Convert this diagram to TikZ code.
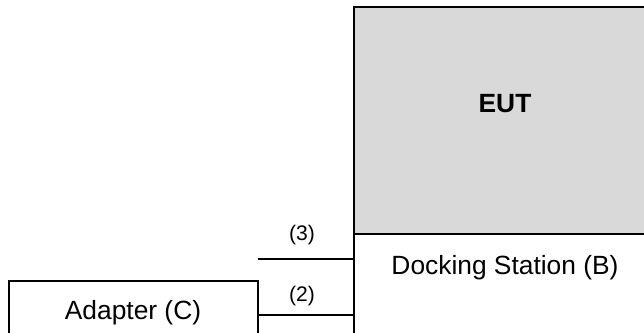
\documentclass[tikz,border=0pt]{standalone}
\usepackage{fontspec}
\setmainfont{Liberation Sans}
\definecolor{eutgray}{HTML}{D9D9D9}
\begin{document}
\begin{tikzpicture}[x=0.02cm,y=-0.02cm,
		box/.style={draw=black,line width=0.7pt,rectangle,inner sep=0pt},
		boxtext/.style={font=\fontsize{15}{17}\selectfont},
		portlabel/.style={font=\fontsize{12}{14}\selectfont},
		cable/.style={draw=black,line width=0.7pt}]
		% Page frame
		\useasboundingbox (0,0) rectangle (644,332);
		\clip (0,0) rectangle (644,332);
		
		% Boxes
		\node[box,fill=eutgray,minimum width=5.92cm,minimum height=4.54cm] (eut) at (502,120.5) {};
		\node[box,minimum width=5.92cm,minimum height=2.12cm] (dock) at (502,287) {};
		\node[box,minimum width=4.98cm,minimum height=1.18cm] (adapter) at (133.5,310.5) {};
		
		% Texts
		\node[boxtext,font=\fontsize{15}{17}\selectfont\bfseries] (eutlabel) at (505,104) {EUT};
		\node[boxtext] (docklabel) at (505,267.5) {Docking Station (B)};
		\node[boxtext] (adapterlabel) at (133,312.5) {Adapter (C)};
		
		% Cables
		\coordinate (c3) at (258,259);
		\coordinate (c2) at (adapter.east |- 0,315);
		\draw[cable] (c3) -- (c3 -| dock.west);
		\draw[cable] (c2) -- (c2 -| dock.west);
		\node[portlabel] (l3) at (302,235) {(3)};
		\node[portlabel] (l2) at (302,296) {(2)};
	\end{tikzpicture}
\end{document}
